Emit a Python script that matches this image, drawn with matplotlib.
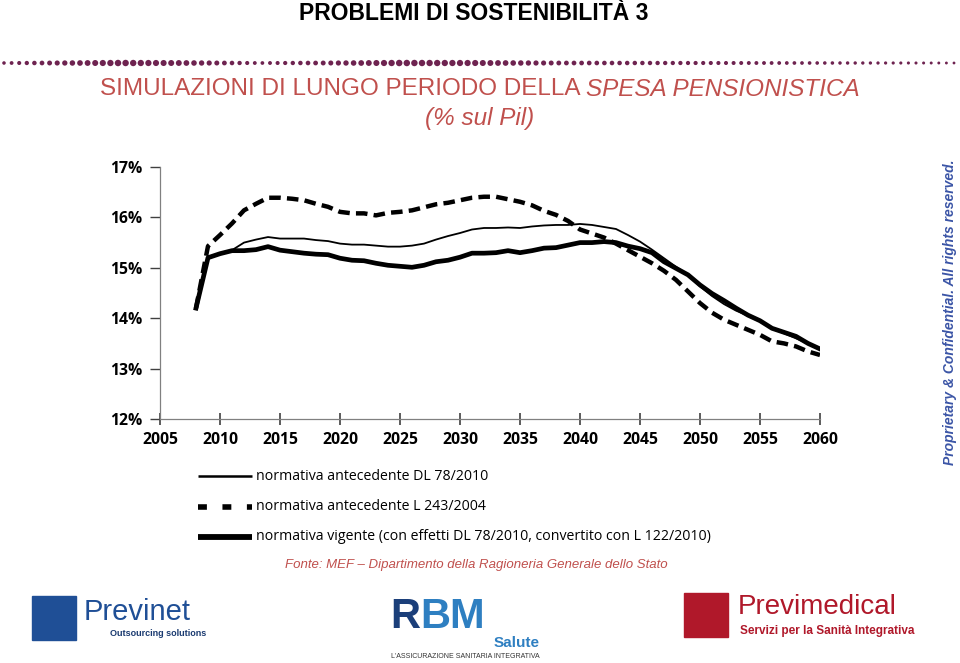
import numpy as np
import matplotlib
matplotlib.use('Agg')
import matplotlib.pyplot as plt
from matplotlib.lines import Line2D
from matplotlib.patches import Rectangle

anni = list(range(2008, 2061))

# normativa antecedente DL 78/2010
ante_dl78 = [14.20, 15.22, 15.28, 15.35, 15.50, 15.56, 15.61, 15.58, 15.58, 15.58,
             15.55, 15.53, 15.48, 15.46, 15.46, 15.44, 15.42, 15.42, 15.44, 15.48,
             15.56, 15.63, 15.69, 15.76, 15.79, 15.79, 15.80, 15.79, 15.82, 15.84,
             15.85, 15.85, 15.87, 15.85, 15.81, 15.77, 15.65, 15.52, 15.36, 15.19,
             15.02, 14.86, 14.63, 14.44, 14.28, 14.15, 14.05, 13.93, 13.80, 13.70,
             13.60, 13.50, 13.40]
# normativa antecedente L 243/2004
ante_l243 = [14.20, 15.43, 15.65, 15.88, 16.14, 16.27, 16.39, 16.39, 16.37, 16.34,
             16.27, 16.21, 16.11, 16.08, 16.08, 16.04, 16.09, 16.11, 16.14, 16.20,
             16.26, 16.29, 16.34, 16.39, 16.41, 16.41, 16.36, 16.31, 16.24, 16.13,
             16.05, 15.93, 15.76, 15.68, 15.60, 15.48, 15.35, 15.22, 15.09, 14.94,
             14.76, 14.53, 14.30, 14.11, 13.97, 13.87, 13.77, 13.67, 13.54, 13.50,
             13.44, 13.34, 13.27]
# normativa vigente
vigente = [14.20, 15.20, 15.28, 15.34, 15.34, 15.36, 15.42, 15.35, 15.32, 15.29,
           15.27, 15.26, 15.19, 15.15, 15.14, 15.09, 15.05, 15.03, 15.01, 15.05,
           15.12, 15.15, 15.21, 15.29, 15.29, 15.30, 15.34, 15.30, 15.34, 15.39,
           15.40, 15.45, 15.50, 15.50, 15.52, 15.50, 15.43, 15.38, 15.30, 15.12,
           14.99, 14.86, 14.66, 14.49, 14.35, 14.20, 14.06, 13.95, 13.80, 13.72,
           13.64, 13.50, 13.39]

x_ticks = list(range(2005, 2061, 5))
y_ticks = [12, 13, 14, 15, 16, 17]

etichette = ['normativa antecedente DL 78/2010',
             'normativa antecedente L 243/2004',
             'normativa vigente (con effetti DL 78/2010, convertito con L 122/2010)']

W, H = 960, 663
fig = plt.figure(figsize=(W / 100, H / 100), dpi=100)
rosso = '#c0504d'

# titoli
fig.text(0.493, 1 - 14 / H, 'PROBLEMI DI SOSTENIBILITÀ 3', ha='center', va='center',
         fontsize=16.5, fontweight='bold', family='Liberation Sans')

renderer = fig.canvas.get_renderer()
t1 = fig.text(0, 1 - 89 / H, 'SIMULAZIONI DI LUNGO PERIODO DELLA ', ha='left', va='center',
              fontsize=17.5, color=rosso, family='Liberation Sans')
t2 = fig.text(0, 1 - 89 / H, 'SPESA PENSIONISTICA', ha='left', va='center',
              fontsize=17.5, color=rosso, style='italic', family='Liberation Sans')
w1 = t1.get_window_extent(renderer).width
w2 = t2.get_window_extent(renderer).width
x0 = 480 - (w1 + w2) / 2
t1.set_x(x0 / W)
t2.set_x((x0 + w1) / W)
fig.text(0.5, 1 - 118 / H, '(% sul Pil)', ha='center', va='center',
         fontsize=17.5, color=rosso, style='italic', family='Liberation Sans')

# riga di puntini
px = np.arange(4, 960, 7.6)
knots_x = [0, 60, 120, 180, 260, 330, 400, 470, 560, 700, 960]
knots_s = [6, 14, 22, 18, 7, 13, 22, 20, 12, 9, 4]
sz = np.interp(px, knots_x, knots_s)
dots_ax = fig.add_axes([0, 1 - 68 / H, 1, 10 / H])
dots_ax.scatter(px, np.zeros_like(px), s=sz, color='#6e2350', linewidths=0)
dots_ax.set_xlim(0, 960)
dots_ax.set_ylim(-1, 1)
dots_ax.axis('off')

# grafico
ax = fig.add_axes([160 / W, 1 - 419 / H, 660 / W, 252 / H])
ax.plot(anni, ante_dl78, color='black', lw=1.3)
ax.plot(anni, ante_l243, color='black', lw=3.2, dashes=(2.6, 1.4))
ax.plot(anni, vigente, color='black', lw=3.4)
ax.set_xlim(2005, 2060)
ax.set_ylim(12, 17)
ax.set_xticks(x_ticks)
ax.set_yticks(y_ticks)
ax.set_yticklabels([f'{v}%' for v in y_ticks])
for s in ['top', 'right']:
    ax.spines[s].set_visible(False)
for s in ['left', 'bottom']:
    ax.spines[s].set_color('#808080')
    ax.spines[s].set_linewidth(0.9)
ax.tick_params(axis='x', direction='inout', length=9, color='#404040', width=1.2, pad=5)
ax.tick_params(axis='y', direction='out', length=7, color='#404040', width=1.0, pad=6)
for lab in ax.get_xticklabels() + ax.get_yticklabels():
    lab.set_family('Open Sans')
    lab.set_fontweight('bold')
    lab.set_fontsize(11.3)

# legenda
leg_y = [476, 507, 537]
stili = [dict(lw=1.8), dict(lw=4, dashes=(1.6, 2.8)), dict(lw=4.2)]
for yy, st, testo in zip(leg_y, stili, etichette):
    fig.add_artist(Line2D([198 / W, 252 / W], [1 - yy / H, 1 - yy / H],
                          color='black', solid_capstyle='butt', dash_capstyle='butt', **st))
    fig.text(256 / W, 1 - yy / H, testo, ha='left', va='center', fontsize=10.2,
             family='Open Sans')

fig.text(476 / W, 1 - 565 / H, 'Fonte: MEF \u2013 Dipartimento della Ragioneria Generale dello Stato',
         ha='center', va='center', fontsize=9.5, style='italic', color=rosso,
         family='Liberation Sans')

fig.text(950 / W, 1 - 312 / H, 'Proprietary & Confidential. All rights reserved.',
         rotation=90, ha='center', va='center', fontsize=10, style='italic',
         fontweight='bold', color='#3b55a6', family='Liberation Sans')

# loghi (approssimati)
blu = '#1f4f96'
fig.add_artist(Rectangle((32 / W, 1 - 640 / H), 44 / W, 44 / H, color=blu))
fig.text(84 / W, 1 - 612 / H, 'Previnet', fontsize=21, color=blu, va='center',
         family='Liberation Sans')
fig.text(110 / W, 1 - 633 / H, 'Outsourcing solutions', fontsize=6.5, color='#1a3a70',
         fontweight='bold', va='center', family='Liberation Sans')

fig.text(390 / W, 1 - 617 / H, 'R', fontsize=30, color='#1b3f7a', fontweight='bold',
         va='center', family='Liberation Sans')
fig.text(420 / W, 1 - 617 / H, 'BM', fontsize=30, color='#2e7fc1', fontweight='bold',
         va='center', family='Liberation Sans')
fig.text(540 / W, 1 - 643 / H, 'Salute', fontsize=11, color='#2e7fc1', fontweight='bold',
         ha='right', va='center', family='Liberation Sans')
fig.text(465 / W, 1 - 657 / H, "L'ASSICURAZIONE SANITARIA INTEGRATIVA", fontsize=5,
         color='#333333', ha='center', va='center', family='Liberation Sans')

rosso_logo = '#b0182a'
fig.add_artist(Rectangle((684 / W, 1 - 637 / H), 44 / W, 44 / H, color=rosso_logo))
fig.text(738 / W, 1 - 607 / H, 'Previmedical', fontsize=20, color=rosso_logo,
         va='center', family='Liberation Sans')
fig.text(740 / W, 1 - 631 / H, 'Servizi per la Sanità Integrativa', fontsize=8.5,
         color=rosso_logo, fontweight='bold', va='center', family='Liberation Sans')

fig.savefig('out.png', dpi=100)
